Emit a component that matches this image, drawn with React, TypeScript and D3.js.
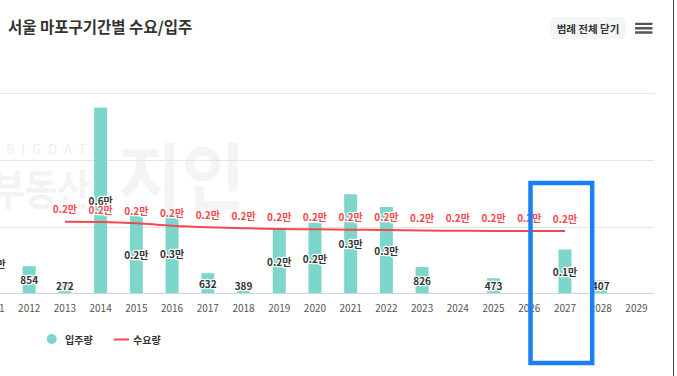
import React from 'react';
import * as d3 from 'd3';

const years = ['2011','2012','2013','2014','2015','2016','2017','2018','2019','2020','2021','2022','2023','2024','2025','2026','2027','2028','2029'];
const supply: (number | null)[] = [1890, 854, 272, 5850, 2440, 2500, 632, 389, 2010, 2220, 3120, 2720, 826, null, 473, null, 1380, 407, null];
const demand: (number | null)[] = [null, null, 2255, 2245, 2205, 2130, 2080, 2050, 2025, 2015, 2005, 1995, 1975, 1970, 1965, 1965, 1960, null, null];
const yTicks = [2100, 4200, 6300];
const title = '서울 마포구기간별 수요/입주';
const seriesNames = ['입주량', '수요량'];

const W = 677, H = 376;
const FONT = "'Noto Sans CJK KR', 'Noto Sans', sans-serif";
const TEAL = '#7dd6cb';
const RED = '#f4484f';

function fmt(v: number): string {
  if (v >= 1000) return (Math.round(v / 1000) / 10).toFixed(1) + '만';
  return String(v);
}

export default function App() {
  const x = d3.scaleBand<string>().domain(years).range([-24.4, 654.3]).padding(0);
  const cx = (y: string) => (x(y) as number) + x.bandwidth() / 2;
  const y = d3.scaleLinear().domain([0, 6300]).range([293.3, 93.3]);
  const barW = 13;

  const linePts = years.map((yr, i) => ({ yr, v: demand[i] })).filter(d => d.v != null) as { yr: string; v: number }[];
  const line = d3.line<{ yr: string; v: number }>().x(d => cx(d.yr)).y(d => y(d.v)).curve(d3.curveMonotoneX);

  return (
    <svg width={W} height={H} style={{ position: 'absolute', left: 0, top: 0, background: '#fff' }} fontFamily={FONT}>
      {/* watermark */}
      <g fontWeight={700}>
        <text x={6} y={154} fontSize={13} fill="#eeeeee" fontWeight={400} letterSpacing={7}>BIGDATA</text>
        <text x={-8} y={205} fontSize={42} textLength={98} lengthAdjust="spacingAndGlyphs" fill="#f3f3f3">부동산</text>
        <text x={118} y={203} fontSize={72} textLength={127} lengthAdjust="spacingAndGlyphs" fill="#f4f4f4">지인</text>
      </g>

      {/* title */}
      <text x={8} y={25.5} fontSize={15.5} fontWeight={700} fill="#333" dominantBaseline="central">{title}</text>

      {/* legend toggle button */}
      <rect x={550} y={17} width={76} height={22} rx={3} fill="#f4f5f6" />
      <text x={588} y={28} fontSize={10.5} fontWeight={700} fill="#333" textAnchor="middle" dominantBaseline="central">범례 전체 닫기</text>
      <g fill="#555">
        {[0, 1, 2].map(i => <rect key={i} x={635} y={22.7 + i * 4.3} width={17.5} height={2.4} rx={0.5} />)}
      </g>

      {/* right border */}
      <line x1={673.5} x2={673.5} y1={0} y2={H} stroke="#444" strokeWidth={1} />

      {/* gridlines */}
      {yTicks.map(t => (
        <line key={t} x1={0} x2={654} y1={Math.round(y(t)) + 0.5} y2={Math.round(y(t)) + 0.5} stroke="#e6e6e6" strokeWidth={1} />
      ))}

      {/* bars */}
      {years.map((yr, i) => {
        const v = supply[i];
        if (v == null) return null;
        return <rect key={yr} x={cx(yr) - barW / 2} y={y(v)} width={barW} height={y(0) - y(v)} fill={TEAL} />;
      })}

      {/* x axis */}
      <line x1={0} x2={654} y1={293.5} y2={293.5} stroke="#ccd6eb" strokeWidth={1} />
      {years.map(yr => (
        <text key={yr} x={cx(yr)} y={307.5} fontSize={10} fill="#555" textAnchor="middle" dominantBaseline="central">{yr}</text>
      ))}

      {/* demand line */}
      <path d={line(linePts) || ''} fill="none" stroke={RED} strokeWidth={2} />

      {/* bar labels */}
      {years.map((yr, i) => {
        const v = supply[i];
        if (v == null) return null;
        const c = Math.min((y(v) + y(0)) / 2, 285);
        return (
          <text key={yr} x={cx(yr)} y={c} fontSize={10} fontWeight={700} fill="#333" textAnchor="middle" dominantBaseline="central"
            stroke="#fff" strokeWidth={2.5} strokeLinejoin="round" paintOrder="stroke">{fmt(v)}</text>
        );
      })}

      {/* demand labels */}
      {linePts.map(d => (
        <text key={d.yr} x={cx(d.yr)} y={y(d.v) - 13} fontSize={10} fontWeight={700} fill={RED} textAnchor="middle" dominantBaseline="central"
          stroke="#fff" strokeWidth={2.5} strokeLinejoin="round" paintOrder="stroke">{fmt(d.v)}</text>
      ))}

      {/* legend */}
      <circle cx={51.7} cy={339} r={5} fill={TEAL} />
      <text x={65} y={339} fontSize={10} fontWeight={700} fill="#333" dominantBaseline="central">{seriesNames[0]}</text>
      <line x1={114} x2={129} y1={339.5} y2={339.5} stroke={RED} strokeWidth={2} />
      <text x={133} y={339} fontSize={10} fontWeight={700} fill="#333" dominantBaseline="central">{seriesNames[1]}</text>

      {/* highlight box */}
      <rect x={530.5} y={183} width={61.7} height={180} fill="none" stroke="#1a7ff2" strokeWidth={4.5} />
    </svg>
  );
}
